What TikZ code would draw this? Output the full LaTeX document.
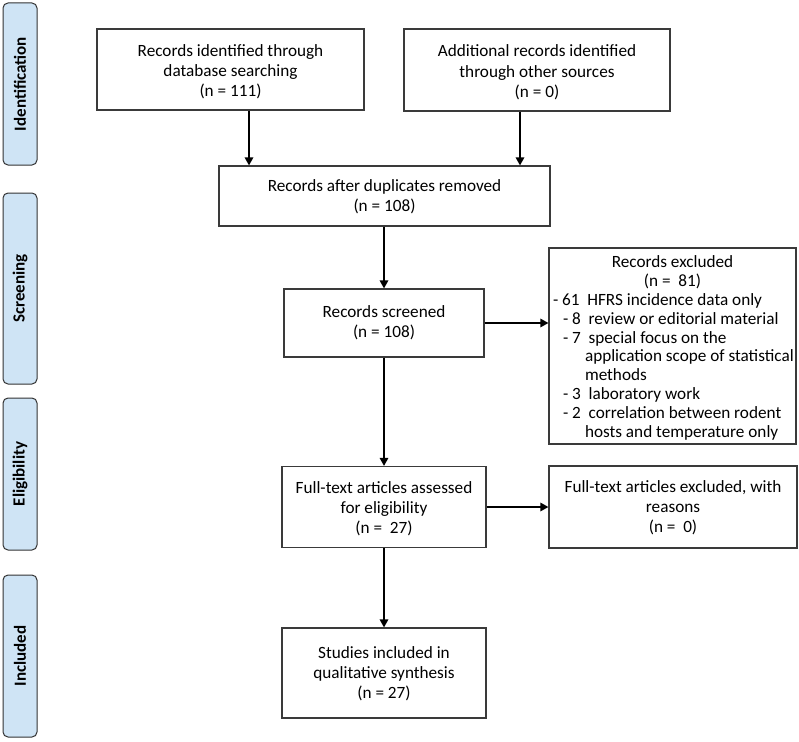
\documentclass[tikz,border=0pt]{standalone}
\usepackage{fontspec}
\setmainfont{Carlito}
\usetikzlibrary{arrows.meta}
\definecolor{phasefill}{HTML}{CFE4F5}
\definecolor{boxline}{HTML}{3A3A3A}
\newcommand\shiftdown[2]{\raisebox{-#1}[\dimexpr\height+#1\relax][\dimexpr\depth+#1\relax]{#2}}
\newcommand\shiftlines[2]{\shiftdown{#1}{\begin{tabular}{@{}c@{}}#2\end{tabular}}}
\tikzset{
  x=1pt, y=-1pt,
  flowbox/.style={draw=boxline, line width=1.2pt, align=center, inner sep=0pt,
    font=\fontsize{17.2}{20.2}\selectfont},
  phase/.style={draw=black!80, line width=1pt, fill=phasefill, rounded corners=5pt,
    inner sep=0pt, minimum width=34pt},
  phaselabel/.style={rotate=90, font=\fontsize{17}{19}\selectfont\bfseries},
  arr/.style={line width=1.5pt, -{Triangle[length=8pt,width=8.5pt]}},
}
\begin{document}
\begin{tikzpicture}
\useasboundingbox (0,0) rectangle (799,741);
% phase bars
\node[phase, minimum height=162pt] (pid) at (20,84) {};
\node[phaselabel] (lid) at (pid.center) {Identification};
\node[phase, minimum height=191pt] (psc) at (20,288.5) {};
\node[phaselabel] (lsc) at (psc.center) {Screening};
\node[phase, minimum height=152pt] (pel) at (20,474) {};
\node[phaselabel] (lel) at (pel.center) {Eligibility};
\node[phase, minimum height=162pt] (pin) at (20,656) {};
\node[phaselabel] (lin) at (pin.center) {Included};
% boxes
\node[flowbox, minimum width=267pt, minimum height=81pt] (b1) at (230.5,69.5)
  {\shiftlines{3pt}{Records identified through\\database searching\\(n = 111)}};
\node[flowbox, minimum width=266pt, minimum height=82pt] (b2) at (537,70)
  {\shiftlines{3pt}{Additional records identified\\through other sources\\(n = 0)}};
\node[flowbox, minimum width=331pt, minimum height=60pt] (b3) at (384.5,196)
  {\shiftlines{1.5pt}{Records after duplicates removed\\(n = 108)}};
\node[flowbox, minimum width=200pt, minimum height=68pt] (b4) at (384,323)
  {Records screened\\(n = 108)};
\node[flowbox, minimum width=247pt, minimum height=196pt, align=left] (ex) at (672.5,346)
  {\shiftdown{2pt}{\begin{minipage}{247pt}\fontsize{17.2}{18.8}\selectfont
   \centering Records excluded\\(n =\ \ 81)\par
   \raggedright
   \hspace*{4pt}- 61\ \ HFRS incidence data only\\
   \hspace*{14pt}- 8\ \ review or editorial material\\
   \hspace*{14pt}- 7\ \ special focus on the\\
   \hspace*{36pt}application scope of statistical\\
   \hspace*{36pt}methods\\
   \hspace*{14pt}- 3\ \ laboratory work\\
   \hspace*{14pt}- 2\ \ correlation between rodent\\
   \hspace*{36pt}hosts and temperature only
   \end{minipage}}};
\node[flowbox, minimum width=204pt, minimum height=81pt] (b5) at (384,507)
  {\shiftlines{2.5pt}{Full-text articles assessed\\for eligibility\\(n =\ \ 27)}};
\node[flowbox, minimum width=248pt, minimum height=82pt] (b6) at (673,507)
  {\shiftlines{1.5pt}{Full-text articles excluded, with\\reasons\\(n =\ \ 0)}};
\node[flowbox, minimum width=204pt, minimum height=90pt] (b7) at (384,673)
  {\shiftlines{1.5pt}{Studies included in\\qualitative synthesis\\(n = 27)}};
% connectors
\draw[arr] ([xshift=18.5pt]b1.south) -- ([xshift=18.5pt]b1.south |- b3.north);
\draw[arr] ([xshift=-17pt]b2.south) -- ([xshift=-17pt]b2.south |- b3.north);
\draw[arr] (b3.south -| b4.north) -- (b4.north);
\draw[arr] (b4.east) -- (b4.east -| ex.west);
\draw[arr] (b4.south -| b5.north) -- (b5.north);
\draw[arr] (b5.east) -- (b5.east -| b6.west);
\draw[arr] (b5.south) -- (b7.north);
\end{tikzpicture}
\end{document}
